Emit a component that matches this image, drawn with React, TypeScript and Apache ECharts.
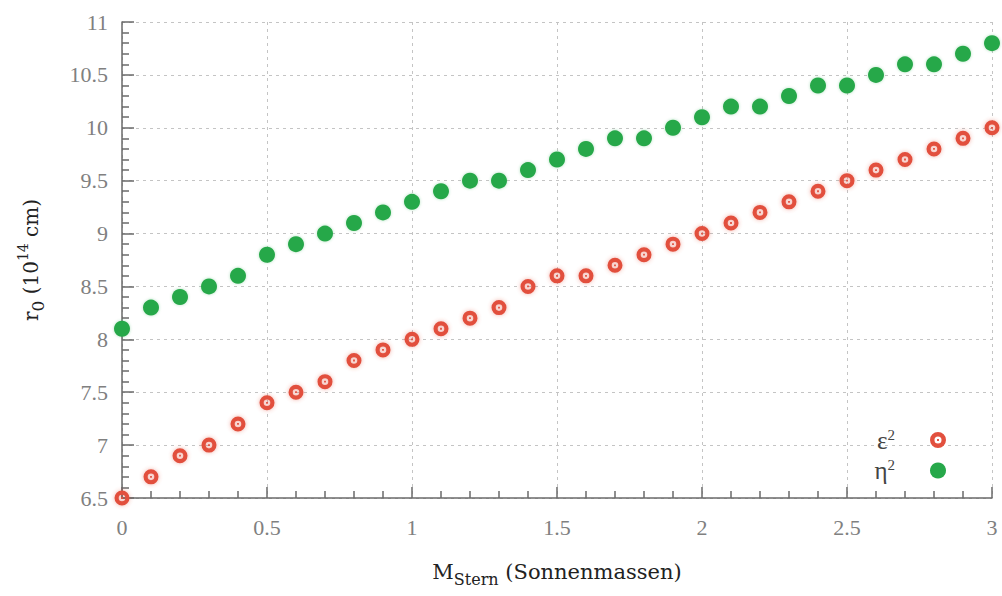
import React, { useEffect, useRef } from 'react';
import * as echarts from 'echarts';

const xValues = [0, 0.1, 0.2, 0.3, 0.4, 0.5, 0.6, 0.7, 0.8, 0.9, 1.0, 1.1, 1.2, 1.3, 1.4, 1.5, 1.6, 1.7, 1.8, 1.9, 2.0, 2.1, 2.2, 2.3, 2.4, 2.5, 2.6, 2.7, 2.8, 2.9, 3.0];
const epsilonValues = [6.5, 6.7, 6.9, 7.0, 7.2, 7.4, 7.5, 7.6, 7.8, 7.9, 8.0, 8.1, 8.2, 8.3, 8.5, 8.6, 8.6, 8.7, 8.8, 8.9, 9.0, 9.1, 9.2, 9.3, 9.4, 9.5, 9.6, 9.7, 9.8, 9.9, 10.0];
const etaValues = [8.1, 8.3, 8.4, 8.5, 8.6, 8.8, 8.9, 9.0, 9.1, 9.2, 9.3, 9.4, 9.5, 9.5, 9.6, 9.7, 9.8, 9.9, 9.9, 10.0, 10.1, 10.2, 10.2, 10.3, 10.4, 10.4, 10.5, 10.6, 10.6, 10.7, 10.8];
const seriesNames = ['ε²', 'η²'];
const legendLabels: Record<string, string> = { 'ε²': '{b|ε}{s|2}', 'η²': '{b|η}{s|2}' };

const RED = '#e2503e';
const GREEN = '#27a84a';
const FONT = '"Liberation Serif", "Times New Roman", serif';
const NAME_FONT = '"DejaVu Serif", "Liberation Serif", serif';
const RING = 'path://M0,10A10,10,0,1,1,20,10A10,10,0,1,1,0,10ZM5.6,10A4.4,4.4,0,1,0,14.4,10A4.4,4.4,0,1,0,5.6,10ZM8.8,8.8L11.2,8.8L11.2,11.2L8.8,11.2Z';

export default function App() {
  const ref = useRef<HTMLDivElement>(null);
  useEffect(() => {
    if (!ref.current) return;
    const chart = echarts.init(ref.current, null, { renderer: 'svg' });
    const gridLine = { show: true, lineStyle: { color: '#c4c4c4', type: [3, 4] as any, width: 1 } };
    chart.setOption({
      animation: false,
      backgroundColor: '#ffffff',
      grid: { left: 122, right: 10, top: 22, bottom: 98, containLabel: false },
      legend: {
        orient: 'vertical',
        right: 56,
        top: 427,
        padding: 0,
        align: 'right',
        itemGap: 5,
        itemWidth: 16,
        itemHeight: 16,
        data: seriesNames,
        formatter: (n: string) => legendLabels[n],
        textStyle: {
          fontFamily: FONT,
          color: '#444',
          rich: {
            b: { fontFamily: FONT, fontSize: 25, color: '#444', lineHeight: 26, verticalAlign: 'middle' },
            s: { fontFamily: FONT, fontSize: 15, color: '#444', lineHeight: 26, verticalAlign: 'top', padding: [0, 30, 0, 0] },
          },
        },
      },
      xAxis: {
        type: 'value',
        min: 0,
        max: 3,
        interval: 0.5,
        name: '{b|M}{sub|Stern}{b| (Sonnenmassen)}',
        nameLocation: 'middle',
        nameGap: 59,
        nameTextStyle: {
          fontFamily: NAME_FONT,
          color: '#222',
          rich: {
            b: { fontFamily: NAME_FONT, fontSize: 21, color: '#222', lineHeight: 30, verticalAlign: 'middle' },
            sub: { fontFamily: NAME_FONT, fontSize: 16, color: '#222', lineHeight: 30, verticalAlign: 'bottom' },
          },
        },
        axisLine: { show: true, lineStyle: { color: '#6a6a6a', width: 1.5 } },
        axisTick: { show: true, inside: true, length: 11, lineStyle: { color: '#6a6a6a', width: 1.5 } },
        minorTick: { show: true, splitNumber: 5, length: 7, lineStyle: { color: '#6a6a6a', width: 1.5 } },
        axisLabel: { fontFamily: FONT, fontSize: 22, color: '#808080', margin: 18 },
        splitLine: gridLine,
      },
      yAxis: {
        type: 'value',
        min: 6.5,
        max: 11,
        interval: 0.5,
        name: '{b|r}{sub|0}{b| (10}{sup|14}{b| cm)}',
        nameLocation: 'middle',
        nameGap: 76,
        nameTextStyle: {
          fontFamily: NAME_FONT,
          color: '#222',
          rich: {
            b: { fontFamily: NAME_FONT, fontSize: 20, color: '#222', lineHeight: 30, verticalAlign: 'middle' },
            sub: { fontFamily: NAME_FONT, fontSize: 17, color: '#222', lineHeight: 30, verticalAlign: 'bottom' },
            sup: { fontFamily: NAME_FONT, fontSize: 14, color: '#222', lineHeight: 30, verticalAlign: 'top' },
          },
        },
        axisLine: { show: true, lineStyle: { color: '#6a6a6a', width: 1.5 } },
        axisTick: { show: true, inside: true, length: 12, lineStyle: { color: '#6a6a6a', width: 1.5 } },
        minorTick: { show: true, splitNumber: 5, length: 7, lineStyle: { color: '#6a6a6a', width: 1.5 } },
        axisLabel: { fontFamily: FONT, fontSize: 22, color: '#808080', margin: 14 },
        splitLine: gridLine,
      },
      series: [
        {
          name: seriesNames[0],
          type: 'scatter',
          symbol: RING,
          symbolSize: 15,
          itemStyle: { color: RED, opacity: 1, shadowBlur: 4, shadowColor: 'rgba(226,80,62,0.45)' },
          data: xValues.map((x, i) => [x, epsilonValues[i]]),
          z: 3,
        },
        {
          name: seriesNames[1],
          type: 'scatter',
          symbol: 'circle',
          symbolSize: 16,
          itemStyle: { color: GREEN, opacity: 1, shadowBlur: 3, shadowColor: 'rgba(39,168,74,0.35)' },
          data: xValues.map((x, i) => [x, etaValues[i]]),
          z: 2,
        },
      ],
    });
    return () => chart.dispose();
  }, []);
  return <div ref={ref} style={{ position: 'fixed', left: 0, top: 0, width: 1002, height: 596 }} />;
}
